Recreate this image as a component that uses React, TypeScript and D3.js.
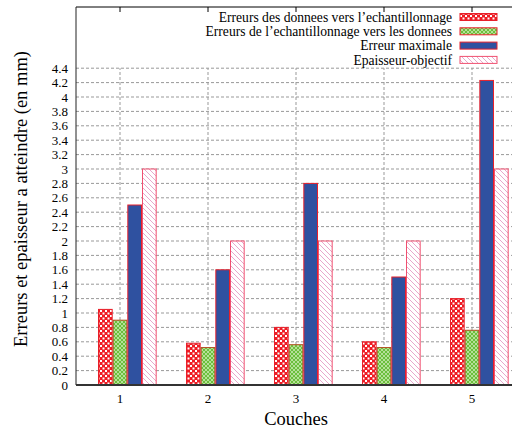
import React, { useEffect, useRef } from "react";
import * as d3 from "d3";

const categories = [1, 2, 3, 4, 5];
const seriesNames = [
  "Erreurs des donnees vers l\u2019echantillonnage",
  "Erreurs de l\u2019echantillonnage vers les donnees",
  "Erreur maximale",
  "Epaisseur-objectif",
];
const donneesVersEch = [1.05, 0.58, 0.8, 0.6, 1.2];
const echVersDonnees = [0.9, 0.52, 0.56, 0.52, 0.76];
const erreurMax = [2.5, 1.6, 2.8, 1.5, 4.23];
const epaisseur = [3.0, 2.0, 2.0, 2.0, 3.0];
const yTicks = [0, 0.2, 0.4, 0.6, 0.8, 1, 1.2, 1.4, 1.6, 1.8, 2, 2.2, 2.4, 2.6, 2.8, 3, 3.2, 3.4, 3.6, 3.8, 4, 4.2, 4.4];

const W = 512;
const H = 430;

export default function App() {
  const ref = useRef<SVGSVGElement>(null);

  useEffect(() => {
    const svg = d3.select(ref.current).html("");
    const series = [donneesVersEch, echVersDonnees, erreurMax, epaisseur];
    const left = 76, top = 7, bottom = 385, right = 516;

    const x = d3.scaleLinear().domain([0.5, 5.5]).range([left, right]);
    const y = d3.scaleLinear().domain([0, 5.25]).range([bottom, top]);
    const bw = (x(1) - x(0)) / 6;

    // patterns
    const defs = svg.append("defs");
    const p1 = defs.append("pattern").attr("id", "checker").attr("patternUnits", "userSpaceOnUse")
      .attr("width", 5).attr("height", 5);
    p1.append("rect").attr("width", 5).attr("height", 5).attr("fill", "#ee1c24");
    p1.append("rect").attr("x", 0).attr("y", 0).attr("width", 2).attr("height", 2).attr("fill", "#fff");
    p1.append("rect").attr("x", 2.5).attr("y", 2.5).attr("width", 2).attr("height", 2).attr("fill", "#fff");

    const p2 = defs.append("pattern").attr("id", "greenx").attr("patternUnits", "userSpaceOnUse")
      .attr("width", 4).attr("height", 4);
    p2.append("rect").attr("width", 4).attr("height", 4).attr("fill", "#6cbf3c");
    p2.append("path").attr("d", "M0,0L4,4M4,0L0,4").attr("stroke", "#c8e8b0").attr("stroke-width", 0.8);

    const p3 = defs.append("pattern").attr("id", "stripes").attr("patternUnits", "userSpaceOnUse")
      .attr("width", 5).attr("height", 5);
    p3.append("rect").attr("width", 5).attr("height", 5).attr("fill", "#fff");
    p3.append("path").attr("d", "M-1,-1L6,6M-1,4L1,6M4,-1L6,1").attr("stroke", "#e8a8cc").attr("stroke-width", 1);

    const fills = ["url(#checker)", "url(#greenx)", "#2f51a0", "url(#stripes)"];
    const strokes = ["#e8202a", "#b05020", "#e8202a", "#f05070"];

    // grid
    const g = svg.append("g");
    const dash = "3,2";
    yTicks.forEach((t) => {
      if (t === 0) return;
      g.append("line").attr("x1", left).attr("x2", right).attr("y1", y(t)).attr("y2", y(t))
        .attr("stroke", "#999").attr("stroke-dasharray", dash).attr("stroke-width", 1);
    });
    categories.forEach((c) => {
      g.append("line").attr("x1", x(c)).attr("x2", x(c)).attr("y1", bottom).attr("y2", y(4.4))
        .attr("stroke", "#999").attr("stroke-dasharray", dash).attr("stroke-width", 1);
      g.append("line").attr("x1", x(c)).attr("x2", x(c)).attr("y1", top).attr("y2", top + 5)
        .attr("stroke", "#000");
    });

    // bars
    series.forEach((vals, j) => {
      svg.append("g").selectAll("rect").data(vals).enter().append("rect")
        .attr("x", (d, i) => x(categories[i]) + (j - 1.5) * bw + 0.5)
        .attr("y", (d) => y(d))
        .attr("width", bw - 1)
        .attr("height", (d) => bottom - y(d))
        .attr("fill", fills[j])
        .attr("stroke", strokes[j])
        .attr("stroke-width", 1);
    });

    // frame
    svg.append("line").attr("x1", left).attr("x2", right).attr("y1", top).attr("y2", top).attr("stroke", "#000");
    svg.append("line").attr("x1", left).attr("x2", left).attr("y1", top).attr("y2", bottom).attr("stroke", "#222");
    svg.append("line").attr("x1", left).attr("x2", right).attr("y1", bottom).attr("y2", bottom)
      .attr("stroke", "#333").attr("stroke-width", 2);

    // y tick labels
    svg.append("g").selectAll("text").data(yTicks).enter().append("text")
      .attr("x", 68).attr("y", (d) => y(d)).attr("dy", "0.35em")
      .attr("text-anchor", "end").attr("font-size", 13)
      .text((d) => String(d));

    // x tick labels
    svg.append("g").selectAll("text").data(categories).enter().append("text")
      .attr("x", (d) => x(d)).attr("y", 403).attr("text-anchor", "middle")
      .attr("font-size", 13).text((d) => String(d));

    // axis titles
    svg.append("text").attr("x", 296).attr("y", 425).attr("text-anchor", "middle")
      .attr("font-size", 18.5).text("Couches");
    svg.append("text").attr("transform", "translate(27,199) rotate(-90)")
      .attr("text-anchor", "middle").attr("font-size", 18.5)
      .text("Erreurs et epaisseur a atteindre (en mm)");

    // legend
    const lg = svg.append("g");
    seriesNames.forEach((name, j) => {
      const ly = 17 + j * 14.3;
      lg.append("text").attr("x", 452).attr("y", ly).attr("dy", "0.35em").attr("text-anchor", "end")
        .attr("font-size", 13.6).text(name);
      lg.append("rect").attr("x", 460).attr("y", ly - 3.5).attr("width", 37).attr("height", 7)
        .attr("fill", fills[j]).attr("stroke", j === 1 ? "#e8202a" : strokes[j]).attr("stroke-width", 1);
    });
  }, []);

  return (
    <svg
      ref={ref}
      width={W}
      height={H}
      style={{ position: "absolute", left: 0, top: 0, background: "#fff", fontFamily: "'Liberation Serif', serif" }}
    />
  );
}
